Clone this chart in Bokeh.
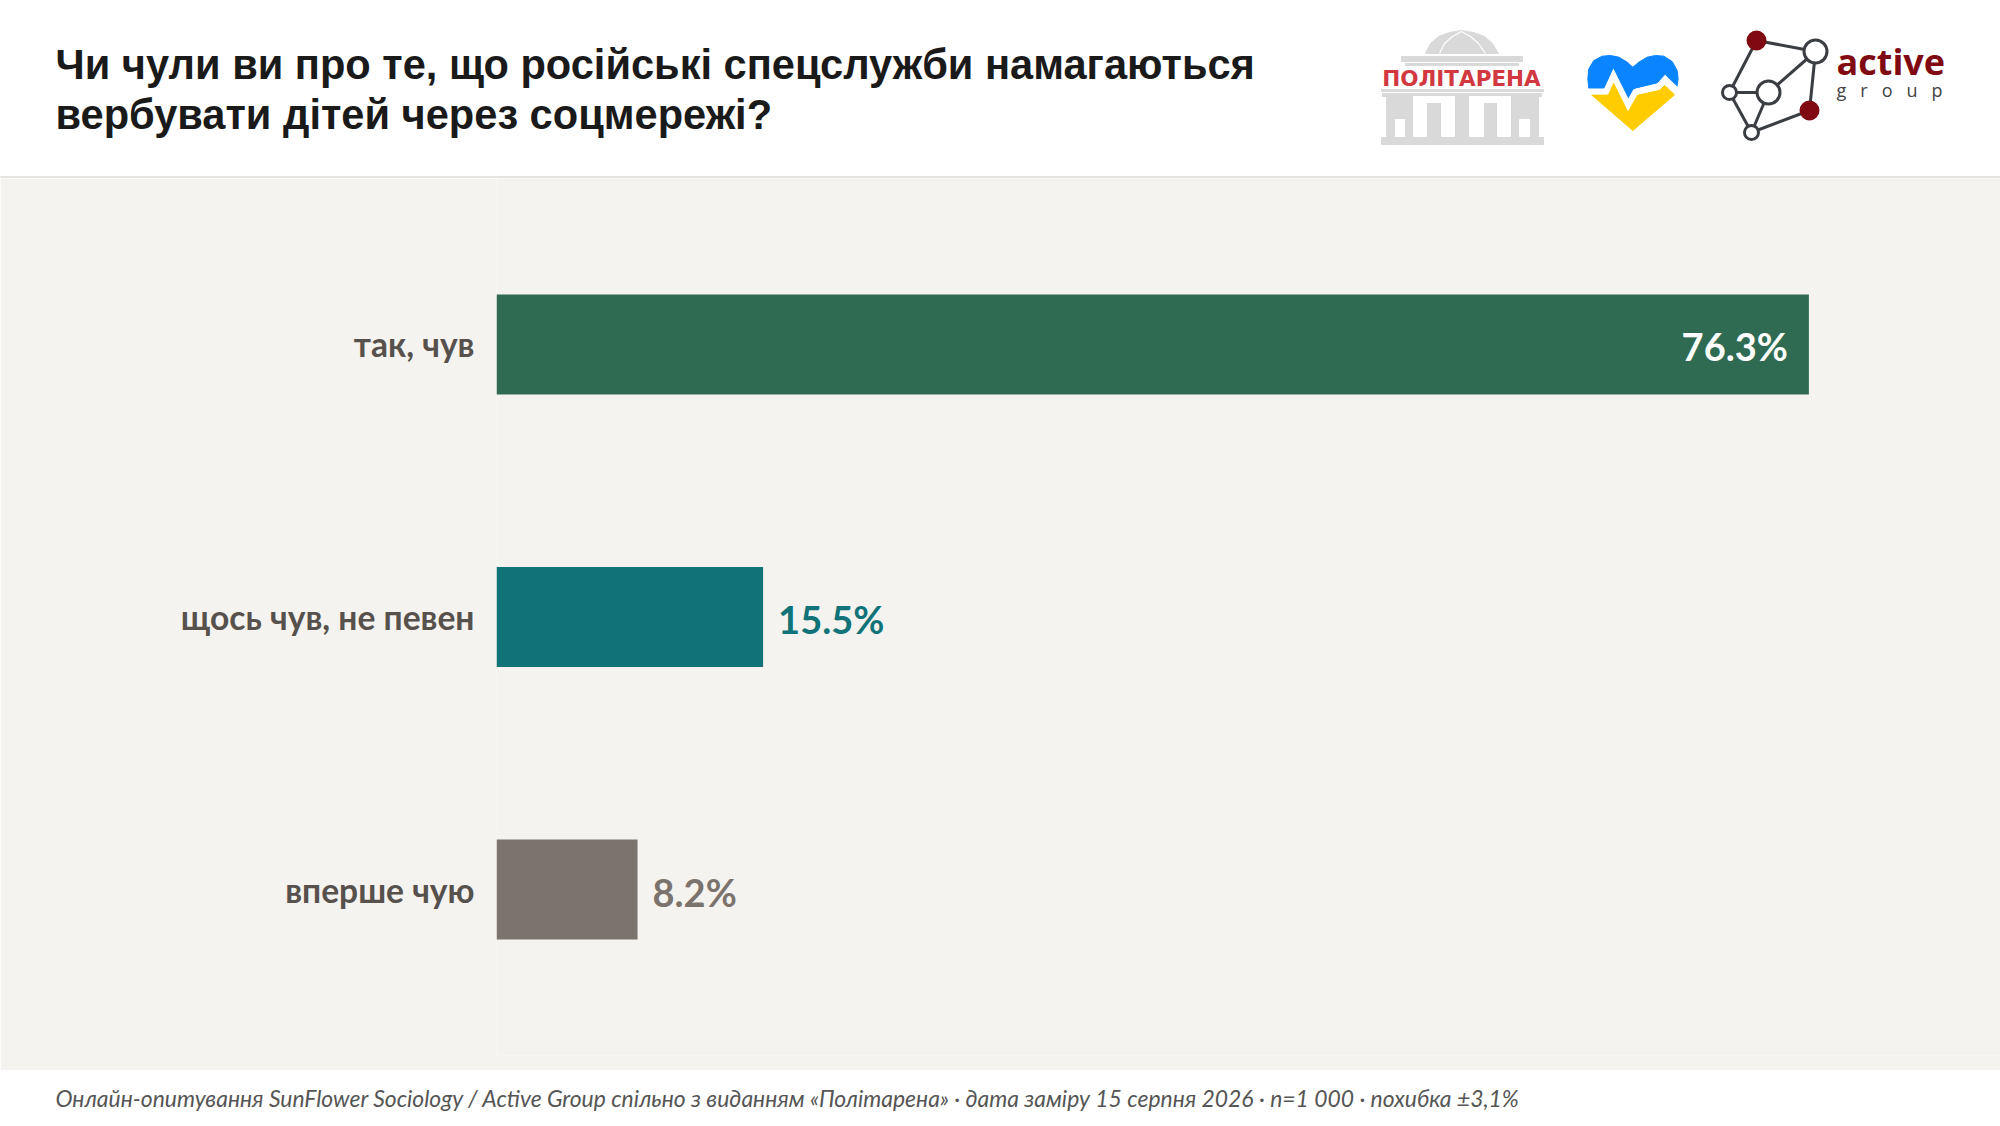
from bokeh.embed import file_html
from bokeh.resources import INLINE
from bokeh.plotting import figure
from bokeh.layouts import column
from bokeh.models import Range1d, FactorRange, ColumnDataSource
from bokeh.core.properties import value

# ---- chart data ----
categories = ["так, чув", "щось чув, не певен", "вперше чую"]
shares = [76.3, 15.5, 8.2]
value_labels = ["76.3%", "15.5%", "8.2%"]
bar_colors = ["#2F6B52", "#0F7377", "#7B736D"]
label_colors = ["#FFFFFF", "#0F7377", "#7B736D"]
label_aligns = ["right", "left", "left"]
label_offsets = [-21, 15, 15]

title_lines = ["Чи чули ви про те, що російські спецслужби намагаються",
               "вербувати дітей через соцмережі?"]
footer_text = ("Онлайн-опитування SunFlower Sociology / Active Group спільно з виданням "
               "«Політарена» · дата заміру 15 серпня 2026 · n=1 000 · похибка ±3,1%")

BG = "#F5F3EF"
W = 2000


def canvas(height, fill):
    f = figure(width=W, height=height, x_range=Range1d(0, W), y_range=Range1d(height, 0),
               output_backend="svg", toolbar_location=None, min_border=0, frame_align=False,
               background_fill_color=fill, border_fill_color=fill, outline_line_color=None)
    f.axis.visible = False
    f.grid.visible = False
    return f


# ---- header ----
h = canvas(178, "#FFFFFF")
h.quad(left=[0], right=[W], top=[176], bottom=[178], color="#E6E4DF")
h.text(x=[55, 55], y=[64, 114], text=title_lines, text_font=value("Liberation Sans"),
       text_font_style="bold", text_font_size="41.6px", text_color="#1A1A1A", text_baseline="middle")

# logo: Політарена
GR = "#D9D9D9"
dome_x = [1425, 1430, 1438, 1449, 1461, 1473, 1484, 1492, 1498]
dome_y = [53, 43, 36, 32, 30, 32, 36, 43, 53]
h.patch(dome_x, dome_y, color=GR)
h.line([1439, 1444, 1452, 1461, 1470, 1478, 1485], [53, 43, 36, 31, 36, 43, 53], line_color="#FFFFFF", line_width=1.2)
h.quad(left=[1401, 1405, 1381, 1382, 1386, 1381],
       right=[1522, 1518, 1543, 1541, 1538, 1543],
       top=[56, 63, 89, 93, 96, 137],
       bottom=[61, 65, 91, 96, 136, 144], color=GR)
h.quad(left=[1395, 1519, 1413, 1469, 1413, 1469, 1441, 1497],
       right=[1404, 1529, 1426, 1483, 1441, 1510, 1454, 1510],
       top=[119, 119, 96, 96, 96, 96, 96, 96],
       bottom=[136, 136, 136, 136, 102, 102, 136, 136], color="#FFFFFF")
h.text(x=[1461], y=[78], text=["ПОЛІТАРЕНА"], text_font=value("DejaVu Sans"), text_font_style="bold",
       text_font_size="21.5px", text_color="#D2383F", text_align="center", text_baseline="middle")

# logo: heart
def hx(z): return [1575 + v / 3 for v in z]
def hy(z): return [45 + v / 3 for v in z]
h.patch(hx([37, 40, 55, 80, 105, 130, 155, 172, 190, 215, 240, 265, 290, 305, 308, 304, 297, 270, 245, 180, 158, 113, 95, 40]),
        hy([100, 70, 45, 32, 30, 35, 50, 65, 50, 35, 30, 32, 48, 75, 100, 125, 137, 85, 112, 128, 170, 85, 128, 130]),
        color="#0A84FF")
h.patch(hx([48, 92, 115, 157, 182, 250, 268, 297, 172]),
        hy([148, 148, 105, 195, 150, 135, 120, 148, 255]), color="#FFCC00")
h.line(hx([28, 92, 114, 158, 180, 248, 270, 312]), hy([138, 138, 90, 178, 139, 124, 102, 142]),
       line_color="#FFFFFF", line_width=6, line_join="miter")

# logo: Active Group network
INK = "#3A3D42"
RED = "#7F0A12"
nx = [1756, 1815, 1768, 1729, 1751, 1809]
ny = [40, 51, 92, 92, 132, 110]
nr = [8.5, 11.5, 11.5, 7, 7, 8.5]
nf = [RED, "#FFFFFF", "#FFFFFF", "#FFFFFF", "#FFFFFF", RED]
nl = [RED, INK, INK, INK, INK, RED]
edges = [(0, 1), (0, 3), (1, 2), (1, 5), (2, 3), (2, 4), (3, 4), (4, 5)]
h.multi_line([[nx[a], nx[b]] for a, b in edges], [[ny[a], ny[b]] for a, b in edges], line_color=INK, line_width=3)
h.circle(nx, ny, radius=nr, fill_color=nf, line_color=nl, line_width=3)
h.text(x=[1836], y=[61], text=["active"], text_font=value("Open Sans"), text_font_style="bold",
       text_font_size="36px", text_color=RED, text_baseline="alphabetic")
h.text(x=[1836], y=[89], text=["g\u00a0\u00a0\u00a0r\u00a0\u00a0\u00a0o\u00a0\u00a0\u00a0u\u00a0\u00a0\u00a0p"],
       text_font=value("Open Sans"), text_font_size="18px", text_color="#444444", text_baseline="alphabetic")

# ---- chart ----
src = ColumnDataSource(dict(cat=categories, share=shares, lab=value_labels, bar=bar_colors,
                            col=label_colors, al=label_aligns, off=label_offsets))
p = figure(width=W, height=892, y_range=FactorRange(factors=categories[::-1], range_padding=0.109,
                                                   range_padding_units="absolute"),
           x_range=Range1d(0, 87.44), output_backend="svg", toolbar_location=None, frame_align=False,
           min_border_left=496, min_border_right=0, min_border_top=0, min_border_bottom=15,
           background_fill_color=BG, border_fill_color=BG, outline_line_color=None)
p.xaxis.visible = False
p.grid.visible = False
ya = p.yaxis[0]
ya.axis_line_color = None
ya.major_tick_line_color = None
ya.minor_tick_line_color = None
ya.major_label_standoff = 16
ya.major_label_text_font = "Lato"
ya.major_label_text_font_style = "bold"
ya.major_label_text_font_size = "33.6px"
ya.major_label_text_color = "#56514D"
p.hbar(y="cat", left=0, right="share", height=100 / 272.5, fill_color="bar", line_color=None, source=src)
p.text(x="share", y="cat", text="lab", text_align="al", x_offset="off", y_offset=2, text_baseline="middle",
       text_color="col", text_font=value("Lato"), text_font_style="bold", text_font_size="38px", source=src)

# ---- footer ----
f = canvas(56, "#FFFFFF")
f.text(x=[55], y=[27], text=[footer_text], text_font=value("Lato"), text_font_style="italic",
       text_font_size="22.9px", text_color="#555555", text_baseline="middle")

page = column(h, p, f, spacing=0, styles={"position": "absolute", "left": "0px", "top": "0px"})
open("out.html", "w").write(file_html(page, INLINE))
